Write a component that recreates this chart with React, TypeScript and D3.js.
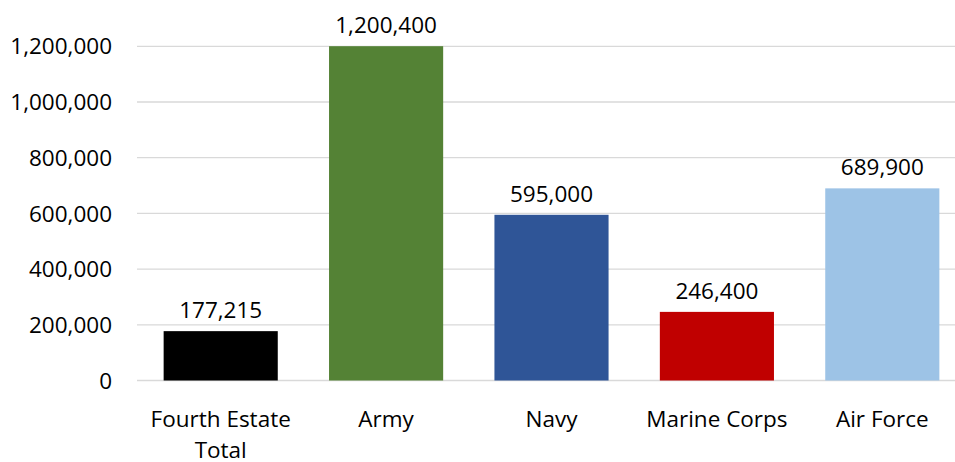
import React from "react";
import * as d3 from "d3";

const categories: string[][] = [
  ["Fourth Estate", "Total"],
  ["Army"],
  ["Navy"],
  ["Marine Corps"],
  ["Air Force"],
];
const values: number[] = [177215, 1200400, 595000, 246400, 689900];
const barColors: string[] = ["#000000", "#548235", "#2F5597", "#C00000", "#9DC3E6"];
const yTicks: number[] = [0, 200000, 400000, 600000, 800000, 1000000, 1200000];

const W = 955;
const H = 462;
const FONT = "'Open Sans', 'Noto Sans', sans-serif";
const FS = 22.5;

export default function App() {
  const left = 138;
  const right = 965;
  const top = 46.3;
  const bottom = 380.5;

  const x = d3
    .scaleBand<number>()
    .domain(d3.range(values.length))
    .range([left, right])
    .paddingInner(0.31)
    .paddingOuter(0.155);
  const y = d3.scaleLinear().domain([0, 1200000]).range([bottom, top]);
  const fmt = d3.format(",");

  return (
    <svg
      width={W}
      height={H}
      style={{ position: "absolute", left: 0, top: 0, background: "#fff" }}
      fontFamily={FONT}
    >
      {yTicks.map((t) => (
        <g key={t}>
          <line x1={left - 1} x2={W} y1={y(t)} y2={y(t)} stroke="#D9D9D9" strokeWidth={1.3} />
          <text x={112} y={y(t)} dy="0.36em" textAnchor="end" fontSize={FS} fill="#000">
            {fmt(t)}
          </text>
        </g>
      ))}
      {values.map((v, i) => (
        <g key={i}>
          <rect
            x={x(i)!}
            y={y(v)}
            width={x.bandwidth()}
            height={bottom - y(v)}
            fill={barColors[i]}
          />
          <text
            x={x(i)! + x.bandwidth() / 2}
            y={y(v) - 13}
            textAnchor="middle"
            fontSize={FS}
            fill="#000"
          >
            {fmt(v)}
          </text>
          {categories[i].map((line, j) => (
            <text
              key={j}
              x={x(i)! + x.bandwidth() / 2}
              y={427 + j * 31}
              textAnchor="middle"
              fontSize={FS}
              fill="#000"
            >
              {line}
            </text>
          ))}
        </g>
      ))}
    </svg>
  );
}
